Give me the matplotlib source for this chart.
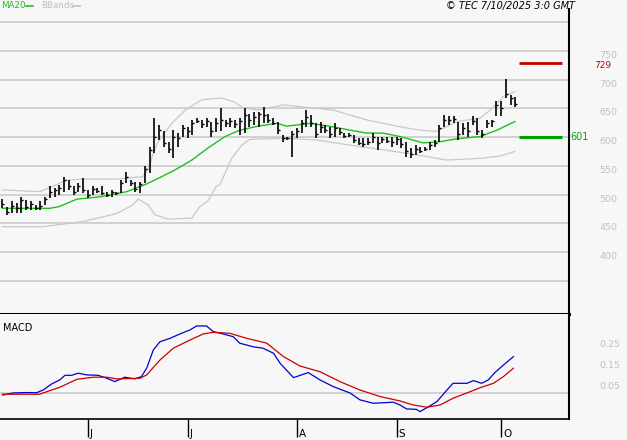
import matplotlib
matplotlib.use('Agg')
import matplotlib.pyplot as plt
from matplotlib.lines import Line2D
from matplotlib.transforms import blended_transform_factory, offset_copy

# daily bars, index 0 = first trading day shown
highs = [492, 479, 488, 485, 496, 491, 489, 482, 488, 496,
         514, 512, 517, 531, 525, 514, 520, 528, 508, 514,
         511, 514, 505, 508, 505, 525, 540, 525, 522, 522,
         549, 583, 633, 621, 610, 592, 612, 607, 621, 618,
         630, 633, 630, 633, 627, 633, 650, 630, 633, 630,
         633, 650, 641, 644, 644, 653, 641, 633, 626, 604,
         601, 610, 615, 630, 647, 639, 624, 627, 621, 618,
         624, 615, 607, 607, 604, 598, 598, 598, 607, 601,
         601, 601, 601, 601, 598, 592, 581, 586, 583, 583,
         592, 595, 621, 639, 636, 636, 627, 624, 627, 636,
         633, 612, 630, 630, 662, 662, 702, 673, 670]
lows = [476, 465, 467, 468, 467, 473, 473, 473, 473, 482,
        494, 496, 499, 505, 508, 499, 505, 502, 494, 499,
        502, 499, 496, 496, 499, 502, 520, 514, 505, 502,
        520, 537, 572, 595, 583, 572, 563, 583, 601, 598,
        604, 624, 616, 618, 601, 609, 610, 618, 618, 615,
        604, 607, 618, 621, 618, 624, 624, 621, 606, 592,
        595, 566, 598, 607, 618, 618, 598, 607, 607, 598,
        601, 604, 598, 601, 589, 586, 583, 586, 589, 578,
        589, 589, 583, 586, 581, 565, 563, 569, 572, 575,
        578, 583, 592, 618, 621, 624, 595, 604, 601, 621,
        604, 598, 615, 618, 636, 636, 668, 656, 653]
closes = [484, 470, 480, 476, 490, 478, 484, 477, 480, 492,
          505, 508, 512, 525, 515, 505, 514, 508, 500, 510,
          506, 503, 500, 505, 502, 520, 530, 520, 510, 518,
          545, 578, 600, 612, 590, 580, 600, 598, 615, 610,
          625, 628, 622, 628, 610, 625, 630, 625, 628, 622,
          628, 638, 630, 635, 640, 638, 630, 625, 612, 598,
          598, 605, 610, 625, 635, 625, 605, 618, 612, 605,
          615, 608, 602, 603, 595, 590, 588, 592, 600, 590,
          596, 594, 592, 596, 588, 575, 570, 580, 576, 580,
          586, 590, 615, 630, 630, 632, 605, 615, 610, 628,
          610, 605, 625, 628, 655, 650, 675, 668, 658]

# moving average 20
ma20_idx = [0, 10, 12, 15.7, 20.6, 26.2, 30, 32.8, 36.4, 39.9, 43.3, 46.9,
            50, 53.8, 57.8, 59.9, 64.8, 69.6, 73.2, 76.7, 80.1, 83.7, 88.6,
            92.2, 95.7, 100.6, 104.1, 107.9]
ma20_val = [476, 476, 479, 492, 496, 505, 517, 528, 543, 560, 581, 601,
            612, 619, 624, 619, 624, 618, 612, 607, 607, 601, 590,
            592, 597, 601, 612, 627]

# bollinger bands
bb_up_idx = [0, 7.9, 13.6, 17, 24.1, 29.6, 31.1, 31.5, 32.8, 35.7, 38.5, 42,
             46.2, 48.6, 50.7, 53.8, 59.1, 62.7, 69.6, 76.7, 83.7, 87.9,
             91.5, 95.7, 100.6, 102.7, 105.4, 107.9]
bb_up_val = [508, 505, 525, 527, 527, 531, 549, 566, 592, 624, 647, 665,
             668, 662, 651, 647, 656, 653, 647, 630, 618, 612,
             610, 627, 633, 647, 670, 679]
bb_lo_idx = [0, 8.6, 17, 24.1, 27.5, 28.6, 30.7, 32.1, 34.9, 39.9, 41.6,
             43.3, 45.1, 45.8, 48.3, 50.4, 52.1, 59.2, 66.2, 73.2, 80.2,
             87.2, 93.6, 100.6, 104.8, 107.9]
bb_lo_val = [444, 444, 453, 467, 482, 492, 482, 465, 457, 459, 479,
             489, 515, 517, 563, 586, 596, 598, 595, 586, 578,
             569, 560, 563, 567, 575]

# MACD and signal
macd_idx = [0.1, 2.3, 5.1, 7.2, 8.6, 10.4, 12.1, 13.2, 14.6, 16, 17.8, 20.2,
            22, 23.7, 25.8, 27.9, 29.3, 30.4, 31.8, 33.2, 35.3, 37.4, 39.5,
            40.9, 43, 44.4, 46.5, 48.6, 50, 52.8, 54.9, 57.1, 58.5, 61.3,
            64.4, 66.9, 69.7, 73.2, 75.3, 78.1, 82.3, 83.7, 85.1, 87.2, 87.9,
            89.4, 91.5, 93.6, 94.9, 97.8, 99.2, 100.9, 102.3, 103.7, 105.5,
            107.6]
macd_val = [-0.01, 0.0, 0.002, 0.001, 0.014, 0.043, 0.062, 0.084, 0.084,
            0.094, 0.086, 0.084, 0.07, 0.054, 0.075, 0.067, 0.078, 0.118,
            0.205, 0.244, 0.26, 0.281, 0.3, 0.319, 0.319, 0.292, 0.281,
            0.268, 0.237, 0.22, 0.213, 0.189, 0.141, 0.073, 0.097, 0.062,
            0.03, 0.0, -0.033, -0.049, -0.044, -0.057, -0.076, -0.078,
            -0.089, -0.07, -0.041, 0.014, 0.046, 0.046, 0.059, 0.046, 0.062,
            0.097, 0.133, 0.173]
sig_idx = [0, 7.9, 8.6, 12.1, 15.7, 19.2, 22, 24.1, 29, 30.4, 33.2, 36,
           39.5, 42.3, 44.4, 47.9, 51.5, 55.7, 59.2, 62.7, 66.9, 71.1, 75.3,
           79.5, 83.7, 86.5, 89.4, 92.2, 94.9, 97.8, 100.6, 103.4, 105.5,
           107.6]
sig_val = [-0.006, -0.006, 0.0, 0.027, 0.065, 0.075, 0.075, 0.067, 0.07,
           0.086, 0.157, 0.213, 0.252, 0.281, 0.289, 0.284, 0.26, 0.237,
           0.173, 0.128, 0.101, 0.054, 0.014, -0.017, -0.038, -0.057,
           -0.068, -0.057, -0.025, 0.0, 0.025, 0.046, 0.078, 0.118]

month_pos = [18, 39, 62, 83, 105]
month_lab = ['J', 'J', 'A', 'S', 'O']
price_grid = [350, 400, 450, 500, 550, 600, 650, 700, 750, 800]
price_ticks = [400, 450, 500, 550, 600, 650, 700, 750]
macd_ticks = [0.25, 0.15, 0.05]
macd_tick_lab = ['0.25', '0.15', '0.05']
target_hi = 729
target_lo = 601

bg = '#f7f7f7'
grid_c = '#c8c8c8'
green = '#1ec01e'
W, H = 627, 440

plt.rcParams['font.family'] = 'DejaVu Sans'
fig = plt.figure(figsize=(W / 100, H / 100), dpi=100, facecolor=bg)
ax = fig.add_axes([0, 1 - 314 / H, 569 / W, (314 - 9) / H], facecolor=bg)
ax2 = fig.add_axes([0, 1 - 419 / H, 569 / W, 105 / H], facecolor=bg, sharex=ax)

x = list(range(len(highs)))

# price panel
for g in price_grid:
    ax.axhline(g, color=grid_c, lw=1.1, zorder=0)
ax.plot(bb_up_idx, bb_up_val, color=grid_c, lw=0.9)
ax.plot(bb_lo_idx, bb_lo_val, color=grid_c, lw=0.9)
ax.plot(ma20_idx, ma20_val, color=green, lw=1.0)
ax.vlines(x, lows, highs, color='black', lw=1.2)
ax.hlines(closes, x, [i + 0.45 for i in x], color='black', lw=1.0)

ytr = ax.get_yaxis_transform()
ax.hlines([target_hi], 0.912, 0.988, transform=ytr, color='#cc0000', lw=2)
ax.hlines([target_lo], 0.912, 0.988, transform=ytr, color='#00a000', lw=2.2)
hi_tr = offset_copy(ytr, fig=fig, y=1.5, units='points')
ax.text(1.044, target_hi, str(target_hi), transform=hi_tr, color='#cc0000',
        fontsize=6.5, va='top', ha='left')
ax.text(1.003, target_lo, str(target_lo), transform=ytr, color='#00a000',
        fontsize=7, va='center', ha='left')

ax.set_xlim(-0.48, 119.3)
ax.set_ylim(292, 823)
ax.yaxis.tick_right()
ax.set_yticks(price_ticks)
ax.set_yticklabels([str(v) for v in price_ticks])
ax.tick_params(axis='y', length=0, pad=22, labelsize=6.8, labelcolor='#c0c0c0')
for lab in ax.get_yticklabels():
    lab.set_va('top')
ax.tick_params(axis='x', bottom=False, labelbottom=False)
for s in ['left', 'top']:
    ax.spines[s].set_visible(False)
ax.spines['right'].set_linewidth(1.5)
ax.spines['bottom'].set_linewidth(2.2)
ax.spines['bottom'].set_zorder(5)

# MACD panel
ax2.axhline(0, color=grid_c, lw=1.1, zorder=0)
ax2.plot(macd_idx, macd_val, color='#0000cc', lw=0.9)
ax2.plot(sig_idx, sig_val, color='#cc0000', lw=0.9)
ax2.set_ylim(-0.124, 0.376)
ax2.yaxis.tick_right()
ax2.set_yticks(macd_ticks)
ax2.set_yticklabels(macd_tick_lab)
ax2.tick_params(axis='y', length=0, pad=22, labelsize=6.8, labelcolor='#c0c0c0')
for lab in ax2.get_yticklabels():
    lab.set_va('top')
ax2.tick_params(axis='x', bottom=False, labelbottom=False)
for s in ['left', 'top']:
    ax2.spines[s].set_visible(False)
ax2.spines['right'].set_linewidth(1.5)
ax2.spines['bottom'].set_linewidth(1.2)

mtr = blended_transform_factory(ax2.transData, ax2.transAxes)
ax2.vlines(month_pos, -0.175, 0, transform=mtr, color='black', lw=1.0, clip_on=False)
for p, lab in zip(month_pos, month_lab):
    ax2.text(p + 0.45, -0.172, lab, transform=mtr, fontsize=7.5,
             ha='left', va='baseline')

# header texts and their legend dashes
fig.text(1 / W, 1 - 6 / H, 'MA20', color=green, fontsize=6.3, va='center')
fig.text(41 / W, 1 - 6 / H, 'BBands', color='#c0c0c0', fontsize=6.3, va='center')
fig.add_artist(Line2D([26 / W, 33 / W], [1 - 6 / H, 1 - 6 / H], color=green, lw=1.2))
fig.add_artist(Line2D([73 / W, 80 / W], [1 - 6 / H, 1 - 6 / H], color='#c0c0c0', lw=1.2))
fig.text(575 / W, 1 - 6 / H, '\u00a9 TEC 7/10/2025 3:0 GMT', fontsize=7,
         style='italic', ha='right', va='center')
fig.text(3 / W, 1 - 328 / H, 'MACD', fontsize=7, va='center')

fig.savefig('out.png', dpi=100, facecolor=bg)
